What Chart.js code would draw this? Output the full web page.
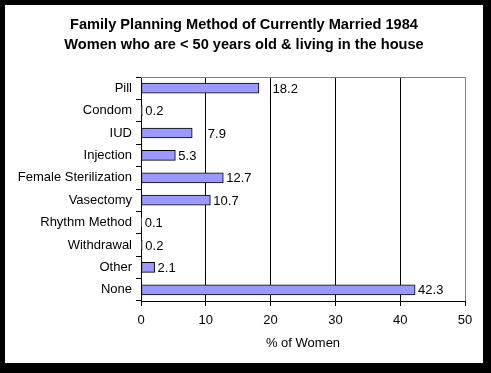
<!DOCTYPE html>
<html>
<head>
<meta charset="utf-8">
<script src="https://cdn.jsdelivr.net/npm/chart.js@4.4.1/dist/chart.umd.min.js"></script>
<style>
    html, body { margin: 0; padding: 0; background: #000; }
    #wrap { position: relative; width: 491px; height: 373px; }
</style>
</head>
<body>
<div id="wrap"><canvas id="methodChart"></canvas></div>
<script>
// --- Chart data ---
const methods = ['Pill', 'Condom', 'IUD', 'Injection', 'Female Sterilization', 'Vasectomy', 'Rhythm Method', 'Withdrawal', 'Other', 'None'];
const percentWomen = [18.2, 0.2, 7.9, 5.3, 12.7, 10.7, 0.1, 0.2, 2.1, 42.3];
const xTicks = [0, 10, 20, 30, 40, 50];
const titleLines = ['Family Planning Method of Currently Married 1984', 'Women who are < 50 years old & living in the house'];

const FONT = 'Liberation Sans, Arial, sans-serif';

// Black frame, white panel and gray plot border (Excel style)
const framePlugin = {
    id: 'frame',
    beforeDraw(chart) {
        const { ctx } = chart;
        ctx.save();
        ctx.fillStyle = '#000';
        ctx.fillRect(0, 0, chart.width, chart.height);
        ctx.fillStyle = '#fff';
        ctx.fillRect(5, 5, 478, 358);
        ctx.restore();
    },
    afterDatasetsDraw(chart) {
        const { ctx, chartArea } = chart;
        ctx.save();
        ctx.strokeStyle = '#808080';
        ctx.lineWidth = 1;
        ctx.beginPath();
        ctx.moveTo(chartArea.left, chartArea.top + 0.5);
        ctx.lineTo(chartArea.right, chartArea.top + 0.5);
        ctx.stroke();
        ctx.restore();
    },
    afterDraw(chart) {
        const { ctx } = chart;
        ctx.save();
        ctx.fillStyle = '#000';
        ctx.font = 'bold 14.6px ' + FONT;
        ctx.textAlign = 'center';
        ctx.textBaseline = 'middle';
        titleLines.forEach((line, i) => ctx.fillText(line, 244, 25 + i * 20));
        ctx.restore();
    }
};

// Value labels to the right of each bar, nudged past a gridline they would cross
const valueLabels = {
    id: 'valueLabels',
    afterDatasetsDraw(chart) {
        const { ctx } = chart;
        const xScale = chart.scales.x;
        const meta = chart.getDatasetMeta(0);
        ctx.save();
        ctx.font = '13px ' + FONT;
        ctx.fillStyle = '#000';
        ctx.textBaseline = 'middle';
        meta.data.forEach((bar, i) => {
            const text = String(percentWomen[i]);
            const w = ctx.measureText(text).width;
            let x = bar.x + 3;
            xTicks.slice(1, -1).forEach(t => {
                const gx = xScale.getPixelForValue(t);
                if (gx >= x && gx <= x + w) x = gx + 2;
            });
            ctx.fillText(text, x, bar.y + 1);
        });
        ctx.restore();
    }
};

new Chart(document.getElementById('methodChart'), {
    type: 'bar',
    data: {
        labels: methods,
        datasets: [{
            data: percentWomen,
            backgroundColor: '#9999ff',
            borderColor: '#000',
            borderWidth: 1,
            borderSkipped: false,
            barThickness: 10
        }]
    },
    options: {
        indexAxis: 'y',
        responsive: true,
        maintainAspectRatio: false,
        animation: false,
        layout: { padding: { left: 5, right: 26, top: 77, bottom: 10 } },
        plugins: {
            legend: { display: false },
            title: { display: false },
            tooltip: { enabled: false }
        },
        scales: {
            x: {
                min: 0,
                max: 50,
                afterBuildTicks: (scale) => { scale.ticks = xTicks.map(v => ({ value: v })); },
                afterFit: (scale) => { scale.height = 62; },
                ticks: { color: '#000', font: { family: FONT, size: 13 }, padding: 7, maxRotation: 0 },
                grid: {
                    color: (c) => c.tick && c.tick.value === 50 ? '#808080' : '#000',
                    tickColor: '#000',
                    tickLength: 5,
                    lineWidth: 1
                },
                border: { color: '#000' },
                title: {
                    display: true,
                    text: '% of Women',
                    color: '#000',
                    font: { family: FONT, size: 13 },
                    padding: { top: 0, bottom: 12 }
                }
            },
            y: {
                afterFit: (scale) => { scale.width = 136; },
                ticks: { color: '#000', font: { family: FONT, size: 13 }, padding: 4 },
                grid: {
                    offset: true,
                    drawOnChartArea: false,
                    color: '#000',
                    tickLength: 5
                },
                border: { color: '#000' }
            }
        }
    },
    plugins: [framePlugin, valueLabels]
});
</script>
</body>
</html>
